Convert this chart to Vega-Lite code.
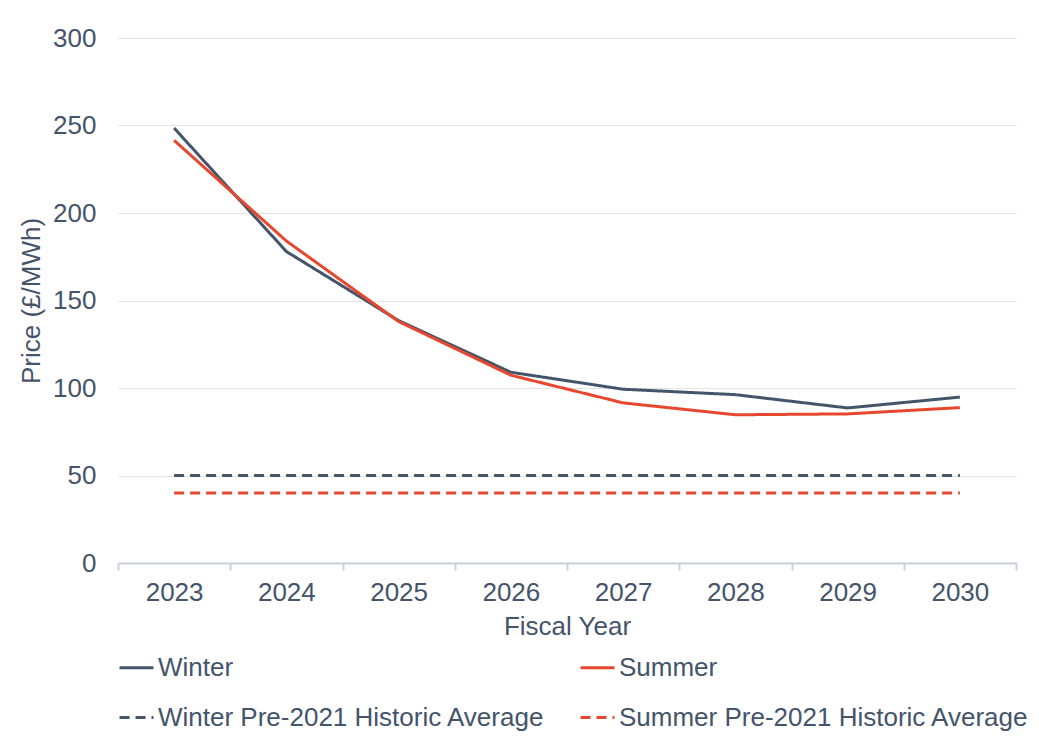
{
  "$schema": "https://vega.github.io/schema/vega-lite/v6.json",
  "width": 898,
  "height": 525,
  "autosize": {"type": "none"},
  "padding": {"left": 118, "top": 38, "right": 23, "bottom": 188},
  "config": {
    "view": {"stroke": null},
    "font": "Liberation Sans",
    "axis": {"labelFont": "Liberation Sans", "titleFont": "Liberation Sans", "labelFontSize": 26, "titleFontSize": 26, "labelColor": "#44546a", "titleColor": "#44546a", "titleFontWeight": "normal"},
    "legend": {"labelFont": "Liberation Sans", "labelFontSize": 26, "labelColor": "#44546a"}
  },
  "data": {
    "values": [
      {"year": "2023", "series": "Winter", "value": 248.5},
      {"year": "2024", "series": "Winter", "value": 178},
      {"year": "2025", "series": "Winter", "value": 138.5},
      {"year": "2026", "series": "Winter", "value": 109},
      {"year": "2027", "series": "Winter", "value": 99.3},
      {"year": "2028", "series": "Winter", "value": 96.2},
      {"year": "2029", "series": "Winter", "value": 88.6},
      {"year": "2030", "series": "Winter", "value": 94.8},
      {"year": "2023", "series": "Summer", "value": 241.5},
      {"year": "2024", "series": "Summer", "value": 184},
      {"year": "2025", "series": "Summer", "value": 138},
      {"year": "2026", "series": "Summer", "value": 107.3},
      {"year": "2027", "series": "Summer", "value": 91.5},
      {"year": "2028", "series": "Summer", "value": 84.7},
      {"year": "2029", "series": "Summer", "value": 85.2},
      {"year": "2030", "series": "Summer", "value": 88.8},
      {"year": "2023", "series": "Winter Pre-2021 Historic Average", "value": 50},
      {"year": "2024", "series": "Winter Pre-2021 Historic Average", "value": 50},
      {"year": "2025", "series": "Winter Pre-2021 Historic Average", "value": 50},
      {"year": "2026", "series": "Winter Pre-2021 Historic Average", "value": 50},
      {"year": "2027", "series": "Winter Pre-2021 Historic Average", "value": 50},
      {"year": "2028", "series": "Winter Pre-2021 Historic Average", "value": 50},
      {"year": "2029", "series": "Winter Pre-2021 Historic Average", "value": 50},
      {"year": "2030", "series": "Winter Pre-2021 Historic Average", "value": 50},
      {"year": "2023", "series": "Summer Pre-2021 Historic Average", "value": 40},
      {"year": "2024", "series": "Summer Pre-2021 Historic Average", "value": 40},
      {"year": "2025", "series": "Summer Pre-2021 Historic Average", "value": 40},
      {"year": "2026", "series": "Summer Pre-2021 Historic Average", "value": 40},
      {"year": "2027", "series": "Summer Pre-2021 Historic Average", "value": 40},
      {"year": "2028", "series": "Summer Pre-2021 Historic Average", "value": 40},
      {"year": "2029", "series": "Summer Pre-2021 Historic Average", "value": 40},
      {"year": "2030", "series": "Summer Pre-2021 Historic Average", "value": 40}
    ]
  },
  "mark": {"type": "line", "strokeWidth": 3, "strokeCap": "butt", "strokeJoin": "round"},
  "encoding": {
    "x": {
      "field": "year", "type": "ordinal", "bandPosition": 0.5,
      "scale": {"type": "band", "paddingInner": 0, "paddingOuter": 0},
      "axis": {"title": "Fiscal Year", "labelAngle": 0, "tickBand": "extent", "domainColor": "#c9d1da", "domainWidth": 2, "tickColor": "#c9d1da", "tickWidth": 2, "tickSize": 7, "labelPadding": 9, "titlePadding": 8, "grid": false}
    },
    "y": {
      "field": "value", "type": "quantitative",
      "scale": {"domain": [0, 300]},
      "axis": {"title": "Price (£/MWh)", "values": [0, 50, 100, 150, 200, 250, 300], "ticks": false, "domain": false, "gridColor": "#e3e3e3", "gridWidth": 1, "labelPadding": 22, "titlePadding": 8}
    },
    "color": {
      "field": "series", "type": "nominal",
      "scale": {"domain": ["Winter", "Winter Pre-2021 Historic Average", "Summer", "Summer Pre-2021 Historic Average"], "range": ["#44546a", "#44546a", "#e8472f", "#e8472f"]},
      "legend": {"title": null, "orient": "none", "legendX": 0, "legendY": 611, "columns": 2, "columnPadding": 29, "rowPadding": 18, "symbolType": "stroke", "symbolSize": 1150, "symbolStrokeWidth": 3, "labelOffset": 3, "labelLimit": 600, "symbolOffset": 0}
    },
    "strokeDash": {
      "field": "series", "type": "nominal",
      "scale": {"domain": ["Winter", "Winter Pre-2021 Historic Average", "Summer", "Summer Pre-2021 Historic Average"], "range": [[1, 0], [10, 6], [1, 0], [10, 6]]},
      "legend": null
    }
  }
}
